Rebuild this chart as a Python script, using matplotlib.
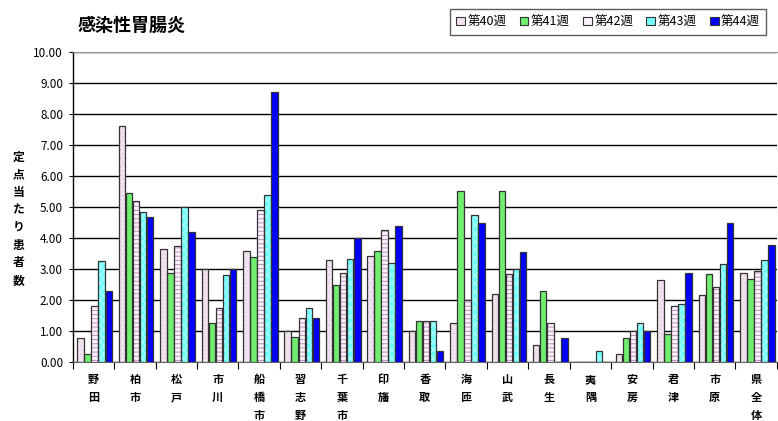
import numpy as np
import matplotlib.pyplot as plt
from matplotlib.patches import Patch

plt.rcParams['font.family'] = ['Noto Sans CJK JP', 'DejaVu Sans']
plt.rcParams['hatch.linewidth'] = 0.7

# データ
areas = ['野田', '柏市', '松戸', '市川', '船橋市', '習志野', '千葉市', '印旛', '香取',
         '海匝', '山武', '長生', '夷隅', '安房', '君津', '市原', '県全体']
weeks = ['第40週', '第41週', '第42週', '第43週', '第44週']
w40 = [0.77, 7.60, 3.66, 3.00, 3.58, 1.00, 3.30, 3.42, 1.00, 1.26, 2.19, 0.54, 0.00, 0.26, 2.66, 2.15, 2.88]
w41 = [0.25, 5.44, 2.88, 1.26, 3.38, 0.82, 2.47, 3.58, 1.33, 5.52, 5.52, 2.28, 0.00, 0.77, 0.89, 2.84, 2.68]
w42 = [1.80, 5.19, 3.74, 1.75, 4.91, 1.43, 2.88, 4.27, 1.33, 2.00, 2.85, 1.26, 0.00, 1.00, 1.80, 2.43, 2.94]
w43 = [3.26, 4.83, 5.00, 2.80, 5.40, 1.75, 3.33, 3.20, 1.33, 4.75, 3.00, 0.00, 0.37, 1.26, 1.87, 3.17, 3.29]
w44 = [2.28, 4.67, 4.18, 3.00, 8.70, 1.43, 4.00, 4.39, 0.37, 4.50, 3.54, 0.77, 0.00, 1.00, 2.88, 4.47, 3.77]
series = [w40, w41, w42, w43, w44]

# 見た目 (塗り, ハッチ, ハッチ色)
styles = [
    ('#F2E4F0', '....', '#E2CCDE'),
    ('#70EE70', None, None),
    ('#FBF3FA', '----', '#C08CC0'),
    ('#70FFFF', 'xxxx', '#B8FFFF'),
    ('#0000FF', None, None),
]

fig = plt.figure(figsize=(7.78, 4.21), dpi=100)
ax = fig.add_axes([0.0935, 0.140, 0.905, 0.7365])

x = np.arange(len(areas))
bw = 0.17
for i, vals in enumerate(series):
    face, hatch, hcol = styles[i]
    pos = x - 2 * bw + i * bw + 0.03
    if hatch:
        ax.bar(pos, vals, bw * 0.92, color=face, hatch=hatch, edgecolor=hcol,
               linewidth=0, zorder=3)
        ax.bar(pos, vals, bw * 0.92, fill=False, edgecolor='#333333',
               linewidth=0.9, zorder=4)
    else:
        ax.bar(pos, vals, bw * 0.92, color=face, edgecolor='#333333',
               linewidth=0.9, zorder=3)

ax.set_xlim(-0.5, len(areas) - 0.5)
ax.set_ylim(0, 10)
ax.set_yticks(np.arange(0, 10.01, 1))
ax.set_yticklabels([f'{v:.2f}' for v in np.arange(0, 10.01, 1)], fontsize=8.5)
ax.yaxis.grid(True, color='black', linewidth=1.0, zorder=0)
ax.set_axisbelow(True)

# x軸: 区切りの目盛りと縦書きラベル
ax.set_xticks(np.arange(-0.5, len(areas), 1))
ax.set_xticklabels([])
ax.tick_params(axis='x', length=5, direction='out', width=0.8)
ax.tick_params(axis='y', length=3, width=0.8, pad=4)
for xi, name in zip(x, areas):
    ax.text(xi, -0.36, '\n'.join(name), ha='center', va='top', fontsize=8,
            fontweight='bold', linespacing=1.5, clip_on=False)

ax.spines['right'].set_visible(False)
ax.spines['top'].set_color('#999999')
ax.spines['left'].set_linewidth(1.0)
ax.spines['bottom'].set_color('#666666')

fig.text(0.024, 0.48, '\n'.join('定点当たり患者数'), ha='center', va='center',
         fontsize=8.5, fontweight='bold', linespacing=1.45)
fig.text(0.100, 0.940, '感染性胃腸炎', ha='left', va='center', fontsize=13,
         fontweight='bold')

handles = [Patch(facecolor=s[0], edgecolor='#333333', linewidth=0.8) for s in styles]
leg = fig.legend(handles, weeks, loc='upper right', bbox_to_anchor=(0.993, 0.993),
                 ncol=5, fontsize=9, frameon=True, fancybox=False,
                 handlelength=0.7, handleheight=0.7, handletextpad=0.2,
                 columnspacing=1.05, borderpad=0.5)
leg.get_frame().set_edgecolor('#333333')
leg.get_frame().set_linewidth(1.0)

fig.savefig('out.png', dpi=100)
